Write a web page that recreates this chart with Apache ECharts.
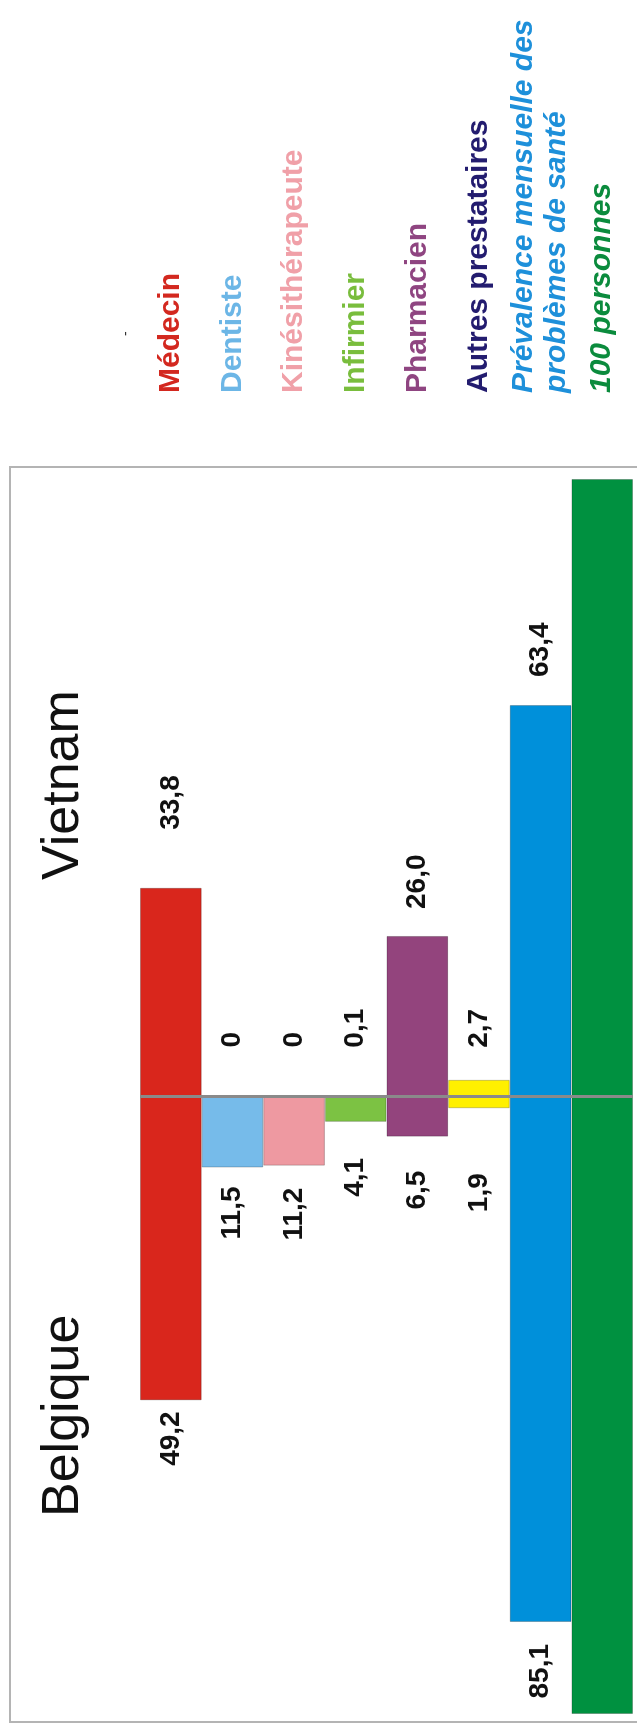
<!DOCTYPE html>
<html lang="fr">
<head>
<meta charset="utf-8">
<title>Recours aux prestataires de soins — Belgique / Vietnam</title>
<script src="https://cdn.jsdelivr.net/npm/echarts@6/dist/echarts.min.js"></script>
<style>
  html, body { margin: 0; padding: 0; background: #ffffff; }
  body { width: 637px; height: 1726px; overflow: hidden; position: relative; }
  /* the chart is laid out in landscape and turned a quarter turn counter-clockwise */
  #chart {
    position: absolute; left: 0; top: 0;
    width: 1726px; height: 637px;
    transform-origin: 0 0;
    transform: translate(0px, 1726px) rotate(-90deg);
  }
</style>
</head>
<body>
<div id="chart"></div>
<script>
// Rows, top to bottom
const categories = [
  'Médecin',
  'Dentiste',
  'Kinésithérapeute',
  'Infirmier',
  'Pharmacien',
  'Autres prestataires',
  'Prévalence mensuelle des\nproblèmes de santé',
  '100 personnes'
];

// Values per 100 persons
const belgique = [49.2, 11.5, 11.2, 4.1, 6.5, 1.9, 85.1, 100];
const vietnam  = [33.8, 0, 0, 0.1, 26.0, 2.7, 63.4, 100];

// Which rows carry a printed value
const showValue = [true, true, true, true, true, true, true, false];

// Styling
const barColors   = ['#d9261c', '#76bbea', '#ee99a1', '#7cc243', '#93447d', '#fff000', '#0090da', '#009140'];
const labelColors = ['#d3281f', '#6cb6e6', '#f0a0a8', '#79bd3d', '#8f4581', '#231c6f', '#1e90da', '#0b8b3d'];
const italicRows  = [false, false, false, false, false, false, true, true];

// Gap in px between a bar end and its value label
const beLabelGap = [11, 19, 22, 36, 34, 65, 22, 0];
const vnLabelGap = [58, 49, 49, 48, 27, 32, 28, 0];

const FONT = '"Liberation Sans", Arial, Helvetica, sans-serif';

function fmt(v) {
  const a = Math.abs(v);
  return a === 0 ? '0' : a.toFixed(1).replace('.', ',');
}

const chart = echarts.init(document.getElementById('chart'), null, { renderer: 'canvas' });

const valueLabel = {
  fontFamily: FONT,
  fontSize: 28,
  fontWeight: 'bold',
  color: '#111111',
  formatter: p => fmt(p.value)
};

chart.setOption({
  animation: false,
  backgroundColor: '#ffffff',
  textStyle: { fontFamily: FONT },
  grid: { left: 12, right: 479, top: 140, bottom: 4, containLabel: false },
  xAxis: {
    type: 'value', min: -100, max: 100, show: false
  },
  yAxis: {
    type: 'category',
    inverse: true,
    position: 'right',
    data: categories.map((c, i) => ({
      value: c,
      textStyle: { color: labelColors[i], fontStyle: italicRows[i] ? 'italic' : 'normal' }
    })),
    axisLine: { show: false },
    axisTick: { show: false },
    splitLine: { show: false },
    axisLabel: {
      margin: 86,
      align: 'left',
      fontFamily: FONT,
      fontSize: 30,
      fontWeight: 'bold',
      lineHeight: 33
    }
  },
  series: [
    {
      name: 'Belgique',
      type: 'bar',
      barGap: '-100%',
      barCategoryGap: '0%',
      silent: true,
      itemStyle: { borderColor: 'rgba(0,0,0,0.22)', borderWidth: 1 },
      label: Object.assign({ show: true, position: 'left' }, valueLabel),
      data: belgique.map((v, i) => ({
        value: -v,
        itemStyle: { color: barColors[i] },
        label: { show: showValue[i], distance: beLabelGap[i] }
      }))
    },
    {
      name: 'Vietnam',
      type: 'bar',
      barGap: '-100%',
      barCategoryGap: '0%',
      silent: true,
      itemStyle: { borderColor: 'rgba(0,0,0,0.22)', borderWidth: 1 },
      label: Object.assign({ show: true, position: 'right' }, valueLabel),
      data: vietnam.map((v, i) => ({
        value: v,
        itemStyle: { color: barColors[i], borderWidth: v === 0 ? 0 : 1 },
        label: { show: showValue[i], distance: vnLabelGap[i] }
      })),
      markLine: {
        silent: true,
        symbol: 'none',
        label: { show: false },
        lineStyle: { color: '#8a8a8a', width: 3, type: 'solid' },
        data: [{ xAxis: 0 }],
        z: 10
      }
    }
  ],
  graphic: [
    {
      type: 'rect',
      z: -10,
      shape: { x: 4, y: 10, width: 1255, height: 660 },
      style: { fill: 'none', stroke: '#b4b4b4', lineWidth: 2 }
    },
    {
      type: 'text',
      style: {
        text: 'Belgique', x: 209, y: 64,
        fontFamily: FONT, fontSize: 52, fill: '#111111',
        align: 'left', verticalAlign: 'middle'
      }
    },
    {
      type: 'text',
      style: {
        text: 'Vietnam', x: 846, y: 64,
        fontFamily: FONT, fontSize: 52, fill: '#111111',
        align: 'left', verticalAlign: 'middle'
      }
    },
    {
      type: 'text',
      style: {
        text: '-', x: 1390, y: 126,
        fontFamily: FONT, fontSize: 14, fill: '#333333',
        align: 'left', verticalAlign: 'middle'
      }
    }
  ]
});
</script>
</body>
</html>
